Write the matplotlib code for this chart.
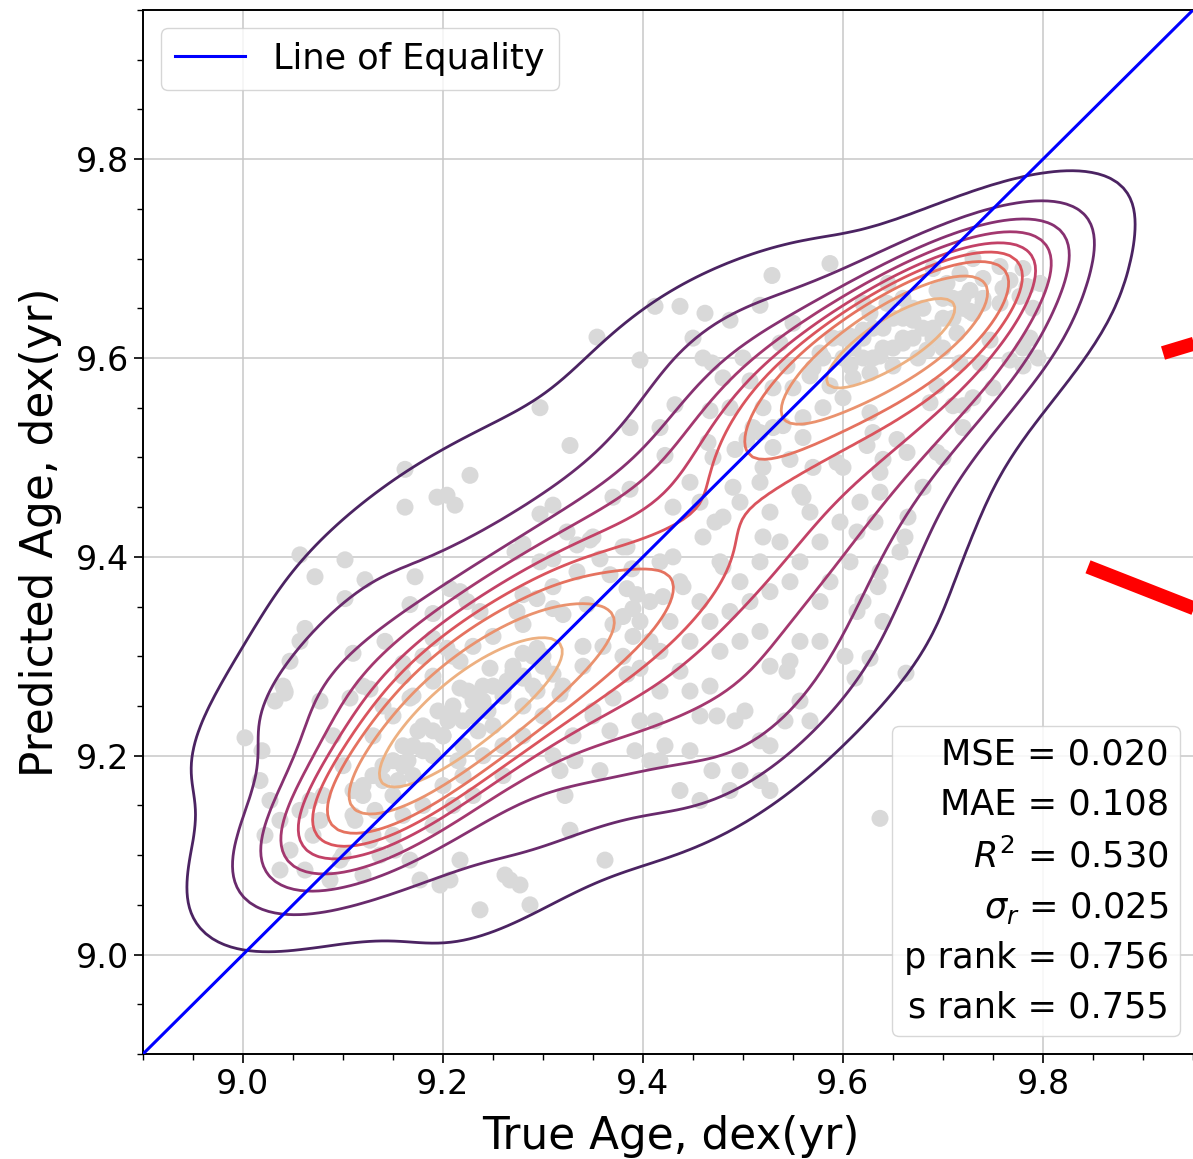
import numpy as np
import matplotlib
matplotlib.use("Agg")
import matplotlib.pyplot as plt
import matplotlib.ticker as ticker
from matplotlib.offsetbox import AnchoredText
import seaborn as sns

# =============================================================================
# DATA  (true age, predicted age), grouped by region
# =============================================================================

lower_left = [
    (9.002, 9.218), (9.04, 9.27), (9.062, 9.328), (9.042, 9.263),
    (9.077, 9.255), (9.107, 9.258), (9.127, 9.267), (9.167, 9.258), (9.19, 9.275),
    (9.11, 9.303), (9.142, 9.315), (9.16, 9.293), (9.19, 9.318), (9.057, 9.402),
    (9.102, 9.397), (9.072, 9.38), (9.122, 9.377), (9.102, 9.358), (9.172, 9.38),
    (9.167, 9.352), (9.19, 9.343), (9.162, 9.45), (9.194, 9.46), (9.162, 9.488),
    (9.227, 9.482),
    (9.267, 9.075), (9.277, 9.07), (9.287, 9.05), (9.237, 9.045), (9.262, 9.08),
    (9.207, 9.075), (9.217, 9.095), (9.197, 9.07), (9.177, 9.075), (9.167, 9.095),
    (9.152, 9.105), (9.137, 9.1), (9.127, 9.115), (9.132, 9.145), (9.112, 9.135),
    (9.097, 9.095), (9.087, 9.075), (9.062, 9.085), (9.077, 9.135), (9.067, 9.155),
    (9.057, 9.145), (9.047, 9.105), (9.037, 9.085), (9.037, 9.135), (9.022, 9.12),
    (9.027, 9.155), (9.017, 9.175), (9.019, 9.205),
    (9.032, 9.255), (9.047, 9.295), (9.057, 9.315), (9.042, 9.265),
]

lower_core = [
    (9.12, 9.17), (9.14, 9.19), (9.15, 9.16), (9.16, 9.21), (9.17, 9.18),
    (9.18, 9.23), (9.19, 9.20), (9.20, 9.22), (9.21, 9.25), (9.22, 9.21),
    (9.23, 9.24), (9.24, 9.27), (9.25, 9.23), (9.26, 9.26), (9.27, 9.29),
    (9.28, 9.25), (9.13, 9.22), (9.15, 9.24), (9.17, 9.26), (9.19, 9.28),
    (9.21, 9.30), (9.23, 9.31), (9.25, 9.32), (9.10, 9.19), (9.11, 9.14),
    (9.13, 9.12), (9.16, 9.14), (9.18, 9.15), (9.20, 9.17), (9.22, 9.18),
    (9.24, 9.20), (9.26, 9.21), (9.28, 9.22), (9.30, 9.24), (9.29, 9.27),
    (9.14, 9.25), (9.16, 9.28), (9.18, 9.30), (9.12, 9.27), (9.09, 9.22),
    (9.08, 9.16), (9.07, 9.12), (9.10, 9.10), (9.12, 9.08), (9.15, 9.12),
    (9.19, 9.13), (9.21, 9.15), (9.23, 9.16), (9.26, 9.18), (9.31, 9.20),
    (9.33, 9.22), (9.35, 9.24), (9.32, 9.27), (9.34, 9.29), (9.36, 9.31),
    (9.38, 9.30), (9.205, 9.235), (9.215, 9.195), (9.195, 9.245), (9.185, 9.205),
    (9.225, 9.265), (9.175, 9.225), (9.235, 9.225), (9.165, 9.195), (9.155, 9.175),
    (9.245, 9.245),
    (9.12, 9.16), (9.14, 9.175), (9.16, 9.19), (9.18, 9.205), (9.20, 9.22),
    (9.22, 9.235), (9.24, 9.25), (9.26, 9.265), (9.28, 9.28), (9.15, 9.195),
    (9.17, 9.21), (9.19, 9.225), (9.21, 9.24), (9.23, 9.255), (9.25, 9.27),
    (9.27, 9.285), (9.13, 9.18), (9.11, 9.165), (9.29, 9.30), (9.30, 9.29),
]

middle_band = [
    (9.204, 9.462), (9.212, 9.452), (9.297, 9.443), (9.31, 9.452), (9.37, 9.46),
    (9.387, 9.468), (9.28, 9.413), (9.272, 9.405), (9.324, 9.425), (9.334, 9.412),
    (9.347, 9.417), (9.384, 9.41), (9.31, 9.398), (9.297, 9.395), (9.334, 9.385),
    (9.357, 9.398), (9.367, 9.382), (9.389, 9.388), (9.207, 9.368), (9.217, 9.365),
    (9.224, 9.355), (9.237, 9.345), (9.28, 9.362), (9.274, 9.345), (9.294, 9.358),
    (9.31, 9.348), (9.32, 9.342), (9.344, 9.352), (9.384, 9.368), (9.394, 9.362),
    (9.39, 9.348), (9.37, 9.332), (9.397, 9.335), (9.28, 9.332), (9.204, 9.308),
    (9.217, 9.295), (9.247, 9.288), (9.28, 9.303), (9.294, 9.308), (9.264, 9.275),
    (9.28, 9.278), (9.294, 9.265), (9.217, 9.268), (9.23, 9.262), (9.24, 9.255),
    (9.31, 9.282), (9.317, 9.262), (9.384, 9.282), (9.397, 9.288), (9.37, 9.258),
    (9.35, 9.245),
    (9.447, 9.475), (9.457, 9.455), (9.472, 9.435), (9.497, 9.455), (9.517, 9.475),
    (9.527, 9.445), (9.557, 9.465), (9.567, 9.445), (9.537, 9.415), (9.517, 9.395),
    (9.497, 9.375), (9.477, 9.395), (9.457, 9.355), (9.437, 9.375), (9.417, 9.395),
    (9.407, 9.355), (9.427, 9.335), (9.447, 9.315), (9.467, 9.335), (9.487, 9.345),
    (9.507, 9.355), (9.527, 9.365), (9.547, 9.375), (9.557, 9.395), (9.577, 9.415),
    (9.597, 9.435), (9.607, 9.395), (9.587, 9.375), (9.407, 9.315), (9.417, 9.305),
    (9.477, 9.305), (9.497, 9.315), (9.517, 9.325),
]

diagonal_band = [
    (9.30, 9.30), (9.34, 9.31), (9.38, 9.34), (9.42, 9.36), (9.43, 9.40),
    (9.46, 9.42), (9.48, 9.44), (9.49, 9.47), (9.52, 9.49), (9.53, 9.51),
    (9.56, 9.52), (9.57, 9.49), (9.47, 9.50), (9.43, 9.45), (9.38, 9.41),
    (9.35, 9.42), (9.31, 9.37), (9.39, 9.32), (9.44, 9.37), (9.48, 9.39),
    (9.52, 9.42), (9.56, 9.46), (9.60, 9.49), (9.53, 9.53), (9.51, 9.53),
]

lower_right = [
    (9.637, 9.485), (9.637, 9.465), (9.617, 9.455), (9.632, 9.435), (9.662, 9.42),
    (9.657, 9.405), (9.614, 9.425), (9.637, 9.385), (9.635, 9.37), (9.614, 9.345),
    (9.62, 9.355), (9.64, 9.335), (9.627, 9.298), (9.663, 9.283), (9.612, 9.278),
    (9.637, 9.137), (9.577, 9.355), (9.577, 9.315), (9.557, 9.315), (9.547, 9.295),
    (9.527, 9.29), (9.544, 9.285), (9.602, 9.3), (9.557, 9.255), (9.567, 9.235),
    (9.542, 9.235), (9.517, 9.215), (9.527, 9.21), (9.492, 9.235), (9.474, 9.24),
    (9.502, 9.245), (9.457, 9.24), (9.447, 9.265), (9.467, 9.27), (9.437, 9.285),
    (9.417, 9.265), (9.412, 9.235), (9.397, 9.235), (9.422, 9.21), (9.417, 9.195),
    (9.447, 9.205), (9.469, 9.185), (9.517, 9.175), (9.497, 9.185), (9.527, 9.165),
    (9.487, 9.165), (9.457, 9.155), (9.437, 9.165), (9.407, 9.195), (9.392, 9.205),
    (9.367, 9.225), (9.357, 9.185), (9.322, 9.16), (9.327, 9.125), (9.362, 9.095),
    (9.317, 9.185), (9.332, 9.195),
]

upper_band = [
    (9.437, 9.652), (9.462, 9.645), (9.487, 9.638), (9.529, 9.683), (9.517, 9.653),
    (9.469, 9.595), (9.507, 9.577), (9.432, 9.553), (9.467, 9.547), (9.487, 9.55),
    (9.417, 9.53), (9.422, 9.502), (9.465, 9.515), (9.504, 9.518), (9.492, 9.508),
    (9.517, 9.525), (9.54, 9.532), (9.547, 9.498), (9.594, 9.495), (9.587, 9.572),
    (9.567, 9.582), (9.577, 9.605), (9.607, 9.622), (9.607, 9.592), (9.55, 9.635),
    (9.537, 9.615), (9.544, 9.592), (9.587, 9.695), (9.412, 9.652), (9.354, 9.621),
    (9.397, 9.598), (9.297, 9.55), (9.327, 9.512), (9.387, 9.53),
]

upper_core = [
    (9.757, 9.692), (9.767, 9.678), (9.784, 9.672), (9.797, 9.675), (9.727, 9.668),
    (9.717, 9.685), (9.704, 9.675), (9.694, 9.668), (9.74, 9.655), (9.757, 9.655),
    (9.777, 9.662), (9.727, 9.647), (9.664, 9.645), (9.67, 9.638), (9.627, 9.645),
    (9.644, 9.655), (9.62, 9.628), (9.66, 9.615), (9.637, 9.602), (9.65, 9.592),
    (9.627, 9.585), (9.684, 9.608), (9.714, 9.625), (9.747, 9.618), (9.767, 9.598),
    (9.78, 9.592), (9.737, 9.595), (9.717, 9.595), (9.694, 9.572), (9.71, 9.552),
    (9.687, 9.555), (9.627, 9.545), (9.63, 9.525), (9.624, 9.512), (9.64, 9.498),
    (9.654, 9.518), (9.664, 9.505), (9.694, 9.505), (9.72, 9.552), (9.795, 9.6),
    (9.787, 9.62),
    (9.60, 9.60), (9.62, 9.62), (9.64, 9.63), (9.66, 9.64), (9.68, 9.65),
    (9.70, 9.66), (9.72, 9.66), (9.63, 9.60), (9.65, 9.61), (9.67, 9.62),
    (9.69, 9.63), (9.71, 9.64), (9.73, 9.645), (9.61, 9.58), (9.59, 9.62),
    (9.57, 9.59), (9.55, 9.57), (9.66, 9.66), (9.69, 9.69), (9.74, 9.68),
    (9.76, 9.67), (9.62, 9.655), (9.645, 9.675), (9.675, 9.60), (9.70, 9.61),
    (9.60, 9.56), (9.58, 9.55), (9.56, 9.54), (9.52, 9.55), (9.53, 9.57),
    (9.50, 9.60), (9.48, 9.58), (9.46, 9.60), (9.45, 9.62),
    (9.73, 9.70), (9.78, 9.69), (9.79, 9.65), (9.78, 9.61),
    (9.72, 9.53), (9.73, 9.56), (9.75, 9.57), (9.70, 9.50), (9.68, 9.47),
    (9.665, 9.44),
    (9.60, 9.62), (9.62, 9.60), (9.64, 9.61), (9.66, 9.62), (9.68, 9.63),
    (9.70, 9.64), (9.72, 9.65), (9.65, 9.64), (9.67, 9.65), (9.63, 9.63),
    (9.61, 9.61), (9.69, 9.62), (9.71, 9.66), (9.58, 9.60), (9.74, 9.66),
]

METRIC_LABELS = ["MSE", "MAE", "$R^2$", r"$\sigma_r$", "p rank", "s rank"]
METRIC_VALUES = [0.020, 0.108, 0.530, 0.025, 0.756, 0.755]

X_LIM = (8.9, 9.955)
Y_LIM = (8.9, 9.95)
TICKS = [9.0, 9.2, 9.4, 9.6, 9.8]

# red connector segments (start inside the axes, run off past the right edge)
CONNECTORS = [((9.92, 9.605), (10.2, 9.69)),
              ((9.845, 9.39), (10.2, 9.25))]

# =============================================================================
# PLOT
# =============================================================================

groups = [lower_left, lower_core, middle_band, diagonal_band,
          lower_right, upper_band, upper_core]
pts = np.array([p for g in groups for p in g])
true_age, pred_age = pts[:, 0], pts[:, 1]

N_LEVELS = 10
flare = sns.color_palette("flare_r", as_cmap=True)
level_colors = [flare(v) for v in np.linspace(0, 1, N_LEVELS - 1)] + [flare(1.0)]

fig = plt.figure(figsize=(11.93, 11.59), dpi=100)
ax = fig.add_axes([143 / 1193, 105 / 1159, 1055 / 1193, 1044 / 1159])

ax.scatter(true_age, pred_age, s=150, color="#d9d9d9", edgecolor="none", zorder=1)
sns.kdeplot(x=true_age, y=pred_age, ax=ax, levels=N_LEVELS,
            colors=level_colors, linewidths=2.0, zorder=2)

ax.plot([8.9, 10.0], [8.9, 10.0], color="blue", linewidth=2.2,
        label="Line of Equality", zorder=3)

for (x0, y0), (x1, y1) in CONNECTORS:
    ax.plot([x0, x1], [y0, y1], color="red", linewidth=10,
            solid_capstyle="butt", clip_on=False, zorder=4)

ax.set_xlim(*X_LIM)
ax.set_ylim(*Y_LIM)
ax.set_xticks(TICKS)
ax.set_yticks(TICKS)
ax.xaxis.set_minor_locator(ticker.MultipleLocator(0.05))
ax.yaxis.set_minor_locator(ticker.MultipleLocator(0.05))
ax.tick_params(which="major", labelsize=24, length=6.5, width=1.2)
ax.tick_params(which="minor", length=4, width=1.0)
for sp in ax.spines.values():
    sp.set_linewidth(1.4)

ax.grid(True, color="#c8c8c8", linewidth=1.1)
ax.set_axisbelow(True)

ax.set_xlabel("True Age, dex(yr)", fontsize=31.5, labelpad=10)
ax.set_ylabel("Predicted Age, dex(yr)", fontsize=31.5, labelpad=10)

ax.legend(loc="upper left", fontsize=25.3)

txt = "\n".join(f"{lab} = {val:.3f}" for lab, val in zip(METRIC_LABELS, METRIC_VALUES))
at = AnchoredText(txt, loc="lower right", pad=0.33,
                  prop=dict(size=25.3, multialignment="right", linespacing=1.57),
                  frameon=True)
at.patch.set_boxstyle("round,pad=0.,rounding_size=0.2")
at.patch.set_edgecolor("#d0d0d0")
at.patch.set_alpha(0.85)
ax.add_artist(at)

fig.savefig("out.png", dpi=100)
